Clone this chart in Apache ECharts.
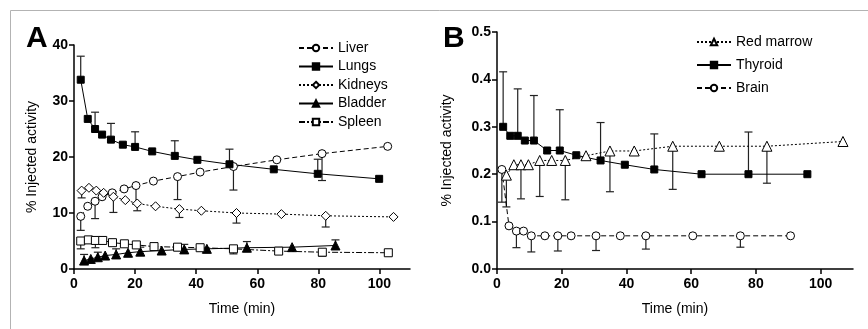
<!DOCTYPE html>
<html>
<head>
<meta charset="utf-8">
<script src="https://cdn.jsdelivr.net/npm/echarts@6/dist/echarts.min.js"></script>
<style>
  html, body { margin: 0; padding: 0; background: #fff; }
  #chart { width: 868px; height: 329px; }
</style>
</head>
<body>
<div id="chart"></div>
<script>
// panel A: [time, value]
const liver = [[2.2, 9.4], [4.5, 11.2], [6.9, 12.1], [9.2, 12.9], [12.5, 13.6], [16.4, 14.3], [20.3, 14.9], [26.0, 15.7], [33.9, 16.5], [41.3, 17.3], [52.2, 18.3], [66.4, 19.5], [81.2, 20.6], [102.7, 21.9]]
const lungs = [[2.2, 33.8], [4.5, 26.8], [6.9, 25.0], [9.2, 24.0], [12.1, 23.1], [16.0, 22.2], [20.0, 21.8], [25.6, 21.0], [33.0, 20.2], [40.4, 19.5], [50.9, 18.7], [65.4, 17.8], [79.8, 17.0], [99.9, 16.1]]
const kidneys = [[2.5, 14.0], [4.9, 14.5], [7.3, 14.0], [9.7, 13.6], [12.9, 12.9], [16.8, 12.3], [20.7, 11.7], [26.7, 11.2], [34.5, 10.7], [41.7, 10.4], [53.2, 10.0], [67.9, 9.8], [82.4, 9.5], [104.6, 9.3]]
const bladder = [[3.3, 1.5], [5.5, 1.8], [7.8, 2.1], [10.2, 2.4], [13.8, 2.6], [17.7, 2.9], [21.7, 3.1], [28.7, 3.3], [36.1, 3.5], [43.5, 3.6], [56.6, 3.8], [71.4, 3.9], [85.6, 4.2]]
const spleen = [[2.2, 5.0], [4.7, 5.2], [7.0, 5.1], [9.4, 5.1], [12.6, 4.7], [16.5, 4.5], [20.4, 4.3], [26.2, 4.0], [33.9, 3.9], [41.3, 3.8], [52.2, 3.6], [67.0, 3.2], [81.3, 3.0], [102.9, 2.9]]

// error bars A: [time, value, bar end]
const liverErr = [[2.2, 9.4, 6.9], [6.9, 12.1, 9.0], [20.3, 14.9, 11.6], [33.9, 16.5, 12.4], [52.2, 18.3, 14.1], [81.2, 20.6, 15.8]]
const lungsErr = [[2.2, 33.8, 38.0], [6.9, 25.0, 28.0], [12.1, 23.1, 26.0], [20.0, 21.8, 24.5], [33.0, 20.2, 22.9], [50.9, 18.7, 21.4], [79.8, 17.0, 19.6]]
const kidneysErr = [[2.5, 14.0, 12.7], [12.9, 12.9, 10.1], [20.7, 11.7, 10.4], [34.5, 10.7, 9.2], [53.2, 10.0, 8.2], [82.4, 9.5, 7.5]]
const bladderErr = [[3.3, 1.5, 2.6], [7.8, 2.1, 3.0], [13.8, 2.6, 3.6], [21.7, 3.1, 3.9], [36.1, 3.5, 4.4], [56.6, 3.8, 4.9], [85.6, 4.2, 5.2]]
const spleenErr = [[2.2, 5.0, 3.6], [7.0, 5.1, 3.8], [33.9, 3.9, 3.3], [52.2, 3.6, 2.7], [81.3, 3.0, 2.3]]

// panel B
const marrow = [[2.9, 0.198], [5.2, 0.220], [7.4, 0.220], [9.7, 0.220], [13.2, 0.229], [16.9, 0.229], [21.1, 0.229], [27.5, 0.239], [34.9, 0.249], [42.4, 0.249], [54.3, 0.259], [68.7, 0.259], [83.4, 0.259], [106.9, 0.269]]
const thyroid = [[1.9, 0.300], [4.1, 0.281], [6.4, 0.281], [8.6, 0.271], [11.4, 0.271], [15.5, 0.250], [19.4, 0.250], [24.5, 0.240], [32.0, 0.229], [39.5, 0.220], [48.6, 0.210], [63.2, 0.200], [77.7, 0.200], [95.9, 0.200]]
const brain = [[1.5, 0.210], [3.7, 0.091], [6.0, 0.080], [8.2, 0.080], [10.6, 0.070], [14.8, 0.070], [18.8, 0.070], [22.9, 0.070], [30.6, 0.070], [38.1, 0.070], [46.0, 0.070], [60.5, 0.070], [75.2, 0.070], [90.7, 0.070]]

const marrowErr = [[2.9, 0.198, 0.131], [7.4, 0.220, 0.148], [13.2, 0.229, 0.153], [21.1, 0.229, 0.146], [34.9, 0.249, 0.163], [54.3, 0.259, 0.168], [83.4, 0.259, 0.181]]
const thyroidErr = [[1.9, 0.300, 0.416], [6.4, 0.281, 0.380], [11.4, 0.271, 0.366], [19.4, 0.250, 0.336], [32.0, 0.229, 0.309], [48.6, 0.210, 0.285], [77.7, 0.200, 0.289]]
const brainErr = [[1.5, 0.210, 0.141], [6.0, 0.080, 0.045], [10.6, 0.070, 0.036], [18.8, 0.070, 0.038], [30.6, 0.070, 0.039], [46.0, 0.070, 0.042], [75.2, 0.070, 0.046]]

// tick positions on the time axes
const timeTicks = [0, 20, 40, 60, 80, 100]

const FONT = 'Liberation Sans, Arial, sans-serif'

function errSeries (data, idx) {
  return {
    type: 'custom',
    xAxisIndex: idx,
    yAxisIndex: idx,
    data: data,
    z: 1,
    silent: true,
    encode: { x: 0, y: [1, 2] },
    renderItem: function (params, api) {
      var p0 = api.coord([api.value(0), api.value(1)])
      var p1 = api.coord([api.value(0), api.value(2)])
      var st = { stroke: '#222', lineWidth: 1.2 }
      return {
        type: 'group',
        children: [
          { type: 'line', shape: { x1: p0[0], y1: p0[1], x2: p1[0], y2: p1[1] }, style: st },
          { type: 'line', shape: { x1: p1[0] - 4, y1: p1[1], x2: p1[0] + 4, y2: p1[1] }, style: st }
        ]
      }
    }
  }
}

function lineSeries (name, data, idx, symbol, filled, dash, size) {
  return {
    name: name,
    type: 'line',
    xAxisIndex: idx,
    yAxisIndex: idx,
    data: data,
    z: 3,
    symbol: symbol,
    symbolSize: size || 8,
    showAllSymbol: true,
    lineStyle: { color: '#000', width: 1, type: dash },
    itemStyle: { color: filled ? '#000' : '#fff', borderColor: '#000', borderWidth: 1 }
  }
}

var axisCommon = {
  axisLine: { lineStyle: { color: '#000', width: 1.5 } },
  axisTick: { length: 5, lineStyle: { color: '#000', width: 1.5 } },
  splitLine: { show: false },
  axisLabel: { color: '#000', fontWeight: 'bold', fontSize: 14, fontFamily: FONT, margin: 6 },
  nameTextStyle: { color: '#000', fontSize: 14, fontFamily: FONT },
  nameLocation: 'middle'
}

function timeAxis (idx) {
  return Object.assign({}, axisCommon, {
    gridIndex: idx, type: 'value', min: 0, max: 110, name: 'Time (min)', nameGap: 33,
    axisTick: Object.assign({}, axisCommon.axisTick, { customValues: timeTicks }),
    axisLabel: Object.assign({}, axisCommon.axisLabel, { customValues: timeTicks, margin: 8 })
  })
}

var legendText = { color: '#000', fontSize: 14, fontFamily: FONT }

var chart = echarts.init(document.getElementById('chart'))
chart.setOption({
  animation: false,
  graphic: [
    { type: 'line', shape: { x1: 10.5, y1: 10.5, x2: 868, y2: 10.5 }, style: { stroke: '#b3b3b3', lineWidth: 1 } },
    { type: 'line', shape: { x1: 10.5, y1: 10.5, x2: 10.5, y2: 329 }, style: { stroke: '#b3b3b3', lineWidth: 1 } },
    { type: 'text', left: 26, top: 24, style: { text: 'A', font: 'bold 30px ' + FONT, fill: '#000' } },
    { type: 'text', left: 443, top: 24, style: { text: 'B', font: 'bold 30px ' + FONT, fill: '#000' } }
  ],
  grid: [
    { left: 74, top: 45, width: 336, height: 224 },
    { left: 497, top: 32, width: 356, height: 237 }
  ],
  legend: [
    {
      data: ['Liver', 'Lungs', 'Kidneys', 'Bladder', 'Spleen'],
      orient: 'vertical', left: 298, top: 41, padding: 0,
      itemWidth: 34, itemHeight: 8, itemGap: 4.5,
      textStyle: legendText
    },
    {
      data: ['Red marrow', 'Thyroid', 'Brain'],
      orient: 'vertical', left: 696, top: 35, padding: 0,
      itemWidth: 34, itemHeight: 8, itemGap: 9,
      textStyle: legendText
    }
  ],
  xAxis: [timeAxis(0), timeAxis(1)],
  yAxis: [
    Object.assign({}, axisCommon, { gridIndex: 0, type: 'value', min: 0, max: 40, interval: 10, name: '% Injected activity', nameGap: 35 }),
    Object.assign({}, axisCommon, {
      gridIndex: 1, type: 'value', min: 0, max: 0.5, interval: 0.1, name: '% Injected activity', nameGap: 43,
      axisLabel: Object.assign({}, axisCommon.axisLabel, { formatter: function (v) { return v.toFixed(1) } })
    })
  ],
  series: [
    errSeries(liverErr, 0),
    errSeries(lungsErr, 0),
    errSeries(kidneysErr, 0),
    errSeries(bladderErr, 0),
    errSeries(spleenErr, 0),
    lineSeries('Liver', liver, 0, 'circle', false, [5, 3], 8),
    lineSeries('Lungs', lungs, 0, 'rect', true, 'solid', 7),
    lineSeries('Kidneys', kidneys, 0, 'diamond', false, [2, 2], 9),
    lineSeries('Bladder', bladder, 0, 'triangle', true, 'solid', 9),
    lineSeries('Spleen', spleen, 0, 'rect', false, [6, 2, 2, 2], 8),
    errSeries(marrowErr, 1),
    errSeries(thyroidErr, 1),
    errSeries(brainErr, 1),
    lineSeries('Red marrow', marrow, 1, 'triangle', false, [2, 2], 10),
    lineSeries('Thyroid', thyroid, 1, 'rect', true, 'solid', 7),
    lineSeries('Brain', brain, 1, 'circle', false, [5, 3], 8)
  ]
})
</script>
</body>
</html>
